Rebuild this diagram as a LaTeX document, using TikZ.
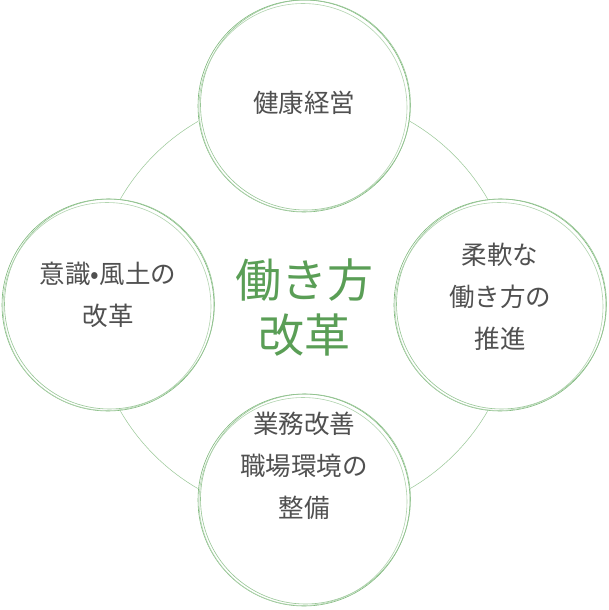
\documentclass[tikz,border=0pt]{standalone}
\usepackage{fontspec}
\newfontfamily\jp{Noto Sans CJK JP}
\definecolor{lgreen}{HTML}{7DB87A}
\definecolor{dgreen}{HTML}{5A9E56}
\definecolor{txt}{HTML}{505050}
\begin{document}
\begin{tikzpicture}[x=1pt,y=-1pt,
  ring/.style={draw=lgreen,line width=0.6pt},
  lab/.style={font=\jp\fontsize{25.5}{42}\selectfont,text=txt,align=center}]
\useasboundingbox (0,0) rectangle (608,610);
\draw[lgreen!80,line width=0.5pt] (304,305) circle (212);
\foreach \n/\x/\y in {t/304/106,l/108/305,r/500/305,b/304/500}{
  \fill[white] (\x,\y) circle (107);
  \draw[ring] (\x,\y) circle (106);
  \draw[ring,lgreen!80] (\x+1.5,\y-1) circle (105);
  \draw[ring,lgreen!60] (\x-1,\y+1.5) circle (104);
  \coordinate (\n) at (\x,\y);
}
\node[lab] (nt) at ([yshift=3]t) {健康経営};
\node[lab] (nl) at ([yshift=10]l) {意識•風土の\\改革};
\node[lab] (nr) at ([yshift=8]r) {柔軟な\\働き方の\\推進};
\node[lab] (nb) at ([yshift=34]b) {業務改善\\職場環境の\\整備};
\node[font=\jp\fontsize{46}{55}\selectfont,text=dgreen,align=center] (c) at (304,308) {働き方\\改革};
\end{tikzpicture}
\end{document}
